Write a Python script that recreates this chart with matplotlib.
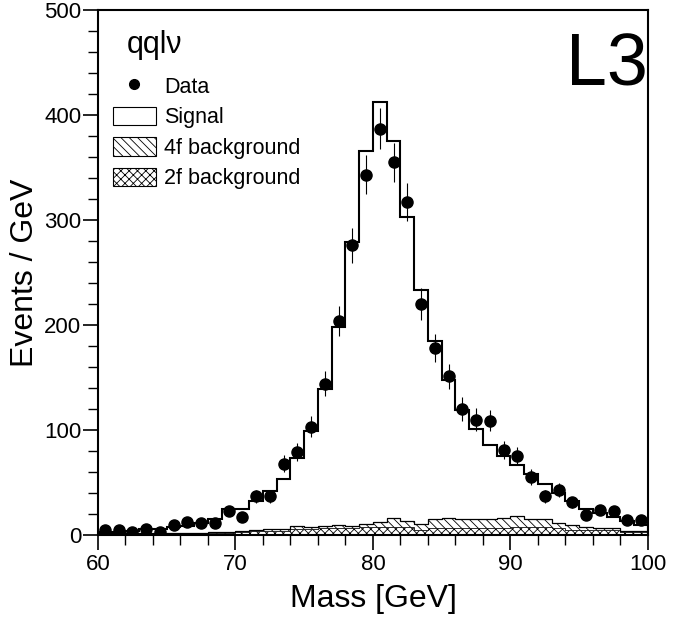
#!/usr/bin/env python3
"""
L3 qqlnu invariant mass plot: data vs signal + 4f/2f backgrounds.
"""

import numpy as np
import matplotlib
matplotlib.use("Agg")
import matplotlib.pyplot as plt
from matplotlib.lines import Line2D
from matplotlib.patches import Patch

plt.rcParams['font.family'] = ['Liberation Sans', 'DejaVu Sans']
plt.rcParams['hatch.linewidth'] = 0.6

# 1 GeV bins from 60 to 100
edges = np.arange(60, 101, 1)
mass = edges[:-1] + 0.5

# data points (events / GeV) and errors
data = [5, 5, 3, 6, 3, 10, 12, 11, 11, 23,
        17, 37, 37, 68, 79, 103, 144, 204, 276, 343,
        387, 355, 317, 220, 178, 151, 120, 110, 109, 81,
        75, 55, 37, 43, 31, 19, 24, 23, 14, 14]
data_err = [2.2, 2.2, 1.7, 2.4, 1.7, 3.2, 3.5, 3.3, 3.3, 4.8,
            4.1, 6.1, 6.1, 8.2, 8.9, 10.1, 12.0, 14.3, 16.6, 18.5,
            19.7, 18.8, 17.8, 14.8, 13.3, 12.3, 11.0, 10.5, 10.4, 9.0,
            8.7, 7.4, 6.1, 6.6, 5.6, 4.4, 4.9, 4.8, 3.7, 3.7]

# total MC (signal + backgrounds), as drawn by the open histogram
mc_total = [2.5, 2.5, 3.5, 6, 6, 8, 9, 11, 15, 24.5,
            24.5, 32, 42, 53, 73, 99, 139, 198, 279, 366,
            412, 375, 303, 233, 185, 148, 119, 101, 86, 75,
            67, 58, 49, 40, 32, 24.5, 21, 17.5, 13, 9.5]

# 2f background and 4f+2f stacked top
bkg_2f = [1, 1, 1, 1, 1, 1.5, 1.5, 1.5, 2, 2,
          3, 3.5, 4, 4, 6, 6, 6.5, 7, 7, 7.5,
          8, 8, 8, 5, 6.5, 6.5, 6.5, 6.5, 7, 7,
          8, 8, 8, 7, 5, 5, 5, 4.5, 3, 3]
bkg_tot = [1.5, 1.5, 1.5, 1.5, 1.5, 2, 2, 2, 3, 3,
           4, 4.5, 5.5, 5.5, 8.5, 7.5, 8.5, 10, 9, 10.5,
           12, 16.5, 13.5, 10.5, 15, 16, 15, 15, 15, 16,
           18, 15, 15, 11, 9.5, 8, 7, 6.5, 4, 4]

fig = plt.figure(figsize=(6.73, 6.25), dpi=100)
ax = fig.add_axes([0.1456, 0.144, 0.8172, 0.84])

# backgrounds
ax.stairs(bkg_2f, edges, fill=True, facecolor='white', edgecolor='black',
          hatch='xxxx', lw=0.5)
ax.stairs(bkg_tot, edges, baseline=bkg_2f, fill=True, facecolor='white',
          edgecolor='black', hatch='\\\\\\\\', lw=0.5)
ax.stairs(bkg_tot, edges, color='black', lw=0.9)

# signal + background line
ax.stairs(mc_total, edges, color='black', lw=1.5)

# data
ax.errorbar(mass, data, yerr=data_err, fmt='o', color='black', ms=8,
            elinewidth=0.8, capsize=0)

ax.set_xlim(60, 100)
ax.set_ylim(0, 500)
ax.set_xticks([60, 70, 80, 90, 100])
ax.set_xticks(np.arange(60, 101, 2), minor=True)
ax.set_yticks([0, 100, 200, 300, 400, 500])
ax.set_yticks(np.arange(0, 501, 20), minor=True)
ax.tick_params(which='major', direction='out', length=11, width=1.2,
               labelsize=16)
ax.tick_params(which='minor', direction='out', length=7, width=1.0)
ax.tick_params(axis='y', which='major', pad=1)
ax.tick_params(axis='x', which='major', pad=3)
for s in ax.spines.values():
    s.set_linewidth(1.5)

ax.set_xlabel('Mass [GeV]', fontsize=23, labelpad=6)
ax.set_ylabel('Events / GeV', fontsize=23, labelpad=3)

ax.text(0.053, 0.918, 'qql\u03bd', transform=ax.transAxes, fontsize=22,
        va='baseline', ha='left')
ax.text(1.0, 0.857, 'L3', transform=ax.transAxes, fontsize=53,
        va='baseline', ha='right')

handles = [
    Line2D([], [], marker='o', ls='none', color='black', ms=7),
    Patch(facecolor='white', edgecolor='black', lw=0.8),
    Patch(facecolor='white', edgecolor='black', hatch='\\\\\\\\', lw=0.8),
    Patch(facecolor='white', edgecolor='black', hatch='xxxx', lw=0.8),
]
labels = ['Data', 'Signal', '4f background', '2f background']
ax.legend(handles, labels, loc='upper left', bbox_to_anchor=(0.027, 0.874),
          frameon=False, fontsize=15.5, handlelength=2.0, handleheight=0.93,
          handletextpad=0.37, labelspacing=0.42, borderpad=0,
          borderaxespad=0)

fig.savefig('out.png', dpi=100)
